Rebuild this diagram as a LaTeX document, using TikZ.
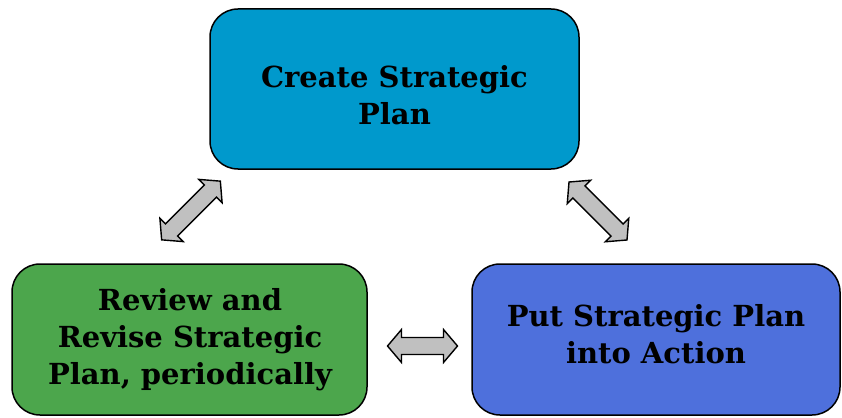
\documentclass[tikz,border=0pt]{standalone}
\usepackage{fontspec}
\setmainfont{DejaVu Serif}
\definecolor{topblue}{RGB}{0,153,204}
\definecolor{boxgreen}{RGB}{76,166,76}
\definecolor{boxblue}{RGB}{78,112,220}
\definecolor{arrowgray}{RGB}{192,192,192}
\tikzset{
  box/.style={draw=black, line width=1.5pt, rounded corners=28pt, inner sep=0pt},
  lbl/.style={font=\bfseries\fontsize{29}{37}\selectfont, align=center, text=black},
  blockarrow/.style={draw=black, fill=arrowgray, line width=1.4pt, line join=miter},
}
% x, y, angle, half length
\newcommand{\blockdbl}[4]{%
  \draw[blockarrow, shift={(#1,#2)}, rotate=#3]
    (-#4,0) -- ({-#4+14},16.5) -- ({-#4+14},8.5) -- ({#4-14},8.5) -- ({#4-14},16.5)
    -- (#4,0) -- ({#4-14},-16.5) -- ({#4-14},-8.5) -- ({-#4+14},-8.5) -- ({-#4+14},-16.5) -- cycle;}
\begin{document}
\begin{tikzpicture}[x=1pt,y=-1pt]
\useasboundingbox (0,0) rectangle (842,417);
\draw[box, fill=topblue] (210,9) rectangle (579,169);
\draw[box, fill=boxgreen] (12,264) rectangle (367,415);
\draw[box, fill=boxblue] (472,264) rectangle (840,415);
\node[lbl] (t1) at (394.5,95) {Create Strategic\\Plan};
\node[lbl] (t2) at (190,340) {Review and\\Revise Strategic\\Plan, periodically};
\node[lbl] (t3) at (656,334) {Put Strategic Plan\\into Action};
\blockdbl{422.5}{346}{0}{35}
\blockdbl{191}{210.5}{45}{41.5}
\blockdbl{598}{211}{-45}{41}
\end{tikzpicture}
\end{document}
